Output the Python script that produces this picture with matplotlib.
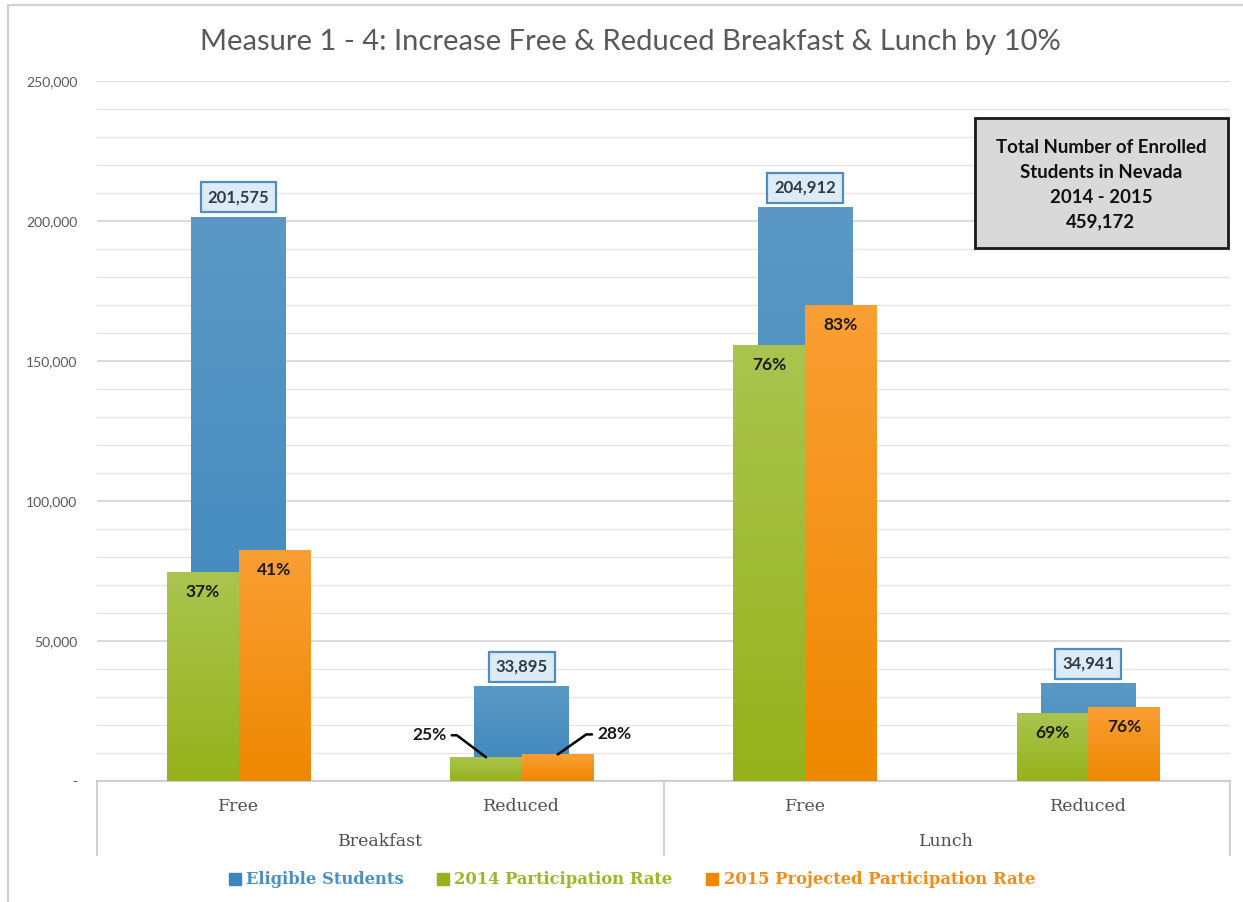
import numpy as np
import matplotlib
matplotlib.use('Agg')
import matplotlib.pyplot as plt
from matplotlib.ticker import FuncFormatter, MultipleLocator
from matplotlib.lines import Line2D
from matplotlib.patches import Rectangle
from matplotlib.colors import LinearSegmentedColormap

# data
meals = ['Breakfast', 'Lunch']
categories = ['Free', 'Reduced', 'Free', 'Reduced']
eligible = [201575, 33895, 204912, 34941]
rate_2014 = [37, 25, 76, 69]
rate_2015 = [41, 28, 83, 76]
series_names = ['Eligible Students', '2014 Participation Rate', '2015 Projected Participation Rate']
box_lines = ['Total Number of Enrolled', 'Students in Nevada', '2014 - 2015', '459,172']

# participation counts follow from the labelled rates
part_2014 = [e * r / 100 for e, r in zip(eligible, rate_2014)]
part_2015 = [e * r / 100 for e, r in zip(eligible, rate_2015)]

BLUE = ('#5b98c5', '#3a86bd')
GREEN = ('#abc44f', '#96b21a')
ORANGE = ('#fa9f35', '#ee8800')
TEXT_GRAY = '#595959'
SANS = 'Lato'
SERIF = 'DejaVu Serif'


def gradient_fill(ax, bars, colors, z):
    cmap = LinearSegmentedColormap.from_list('grad', [colors[1], colors[0]])
    grad = np.linspace(0, 1, 256).reshape(-1, 1)
    for b in bars:
        x0, y0 = b.get_x(), b.get_y()
        im = ax.imshow(grad, extent=[x0, x0 + b.get_width(), y0, y0 + b.get_height()],
                       origin='lower', aspect='auto', cmap=cmap, zorder=z)
        im.set_clip_path(b)


fig = plt.figure(figsize=(12.43, 9.02), dpi=100)
ax = fig.add_axes([97 / 1243, 1 - 781 / 902, (1230 - 97) / 1243, 700 / 902])

x = np.arange(len(categories))
wide, narrow = 0.335, 0.253

b_elig = ax.bar(x, eligible, width=wide, color=BLUE[0], zorder=2)
b_14 = ax.bar(x - narrow / 2, part_2014, width=narrow, color=GREEN[0], zorder=3)
b_15 = ax.bar(x + narrow / 2, part_2015, width=narrow, color=ORANGE[0], zorder=3)
gradient_fill(ax, b_elig, BLUE, 2.1)
gradient_fill(ax, b_14, GREEN, 3.1)
gradient_fill(ax, b_15, ORANGE, 3.1)

ax.set_xlim(-0.5, len(categories) - 0.5)
ax.set_ylim(0, 250000)

# grid
ax.yaxis.set_major_locator(MultipleLocator(50000))
ax.yaxis.set_minor_locator(MultipleLocator(10000))
ax.grid(axis='y', which='major', color='#d4d4d4', lw=1.2, zorder=0)
ax.grid(axis='y', which='minor', color='#e6e6e6', lw=1.0, zorder=0)
ax.set_axisbelow(True)
ax.yaxis.set_major_formatter(FuncFormatter(lambda v, p: '-' if v == 0 else f'{v:,.0f}'))
ax.tick_params(axis='y', which='both', length=0, pad=14, labelsize=10, labelcolor=TEXT_GRAY)
for lbl in ax.get_yticklabels():
    lbl.set_fontfamily(SANS)
ax.set_xticks([])
for s in ['left', 'right', 'top']:
    ax.spines[s].set_visible(False)
ax.spines['bottom'].set_color('#c8c8c8')
ax.spines['bottom'].set_linewidth(1.2)

# multi-level category axis
for xi, c in zip(x, categories):
    ax.text(xi, -0.036, c, transform=ax.get_xaxis_transform(), ha='center', va='center',
            fontsize=12.5, family=SERIF, color='#505050')
for i, m in enumerate(meals):
    ax.text(2 * i + 0.5, -0.087, m, transform=ax.get_xaxis_transform(), ha='center', va='center',
            fontsize=12.5, family=SERIF, color='#505050')
for xs in [-0.5, 1.5, 3.5]:
    ax.plot([xs, xs], [0, -0.106], transform=ax.get_xaxis_transform(), color='#c8c8c8',
            lw=1.2, clip_on=False)

# eligible value boxes
for b, v in zip(b_elig, eligible):
    ax.annotate(f'{v:,}', (b.get_x() + b.get_width() / 2, b.get_height()),
                xytext=(0, 14), textcoords='offset points', ha='center', va='center',
                fontsize=12, fontweight='bold', family=SANS, color='#2f3b45', zorder=5,
                bbox=dict(boxstyle='square,pad=0.42', fc='#dcebf6', ec='#4f8dbf', lw=1.6))

# percentage labels
for bars, rates in [(b_14, rate_2014), (b_15, rate_2015)]:
    for i, (b, r) in enumerate(zip(bars, rates)):
        cx = b.get_x() + b.get_width() / 2
        if i == 1:
            continue
        ax.annotate(f'{r}%', (cx, b.get_height()), xytext=(0, -20), textcoords='offset pixels',
                    ha='center', va='center', fontsize=12.5, fontweight='bold', family=SANS,
                    color='#1a1a1a', zorder=5)

# small breakfast reduced bars get leader lines
b = b_14[1]
ax.annotate(f'{rate_2014[1]}%', (b.get_x() + b.get_width() / 2, b.get_height()),
            xytext=(-57, 22), textcoords='offset pixels', ha='center', va='center',
            fontsize=12.5, fontweight='bold', family=SANS, color='#1a1a1a', zorder=5,
            arrowprops=dict(arrowstyle='-', color='black', lw=1.8, shrinkB=0,
                            connectionstyle='angle,angleA=0,angleB=-37,rad=0'))
b = b_15[1]
ax.annotate(f'{rate_2015[1]}%', (b.get_x() + b.get_width() / 2, b.get_height()),
            xytext=(57, 20), textcoords='offset pixels', ha='center', va='center',
            fontsize=12.5, fontweight='bold', family=SANS, color='#1a1a1a', zorder=5,
            arrowprops=dict(arrowstyle='-', color='black', lw=1.8, shrinkB=0,
                            connectionstyle='angle,angleA=0,angleB=35,rad=0'))

# enrolled students box
fig.add_artist(Rectangle((975 / 1243, 1 - 248 / 902), 253 / 1243, 130 / 902,
                         transform=fig.transFigure, fc='#d9d9d9', ec='#1a1a1a', lw=2, zorder=4))
fig.text(1101 / 1243, 1 - 185 / 902, '\n'.join(box_lines), ha='center', va='center',
         fontsize=13.4, fontweight='bold', family=SANS, color='#111111', linespacing=1.55,
         zorder=5)

# title
fig.text(0.507, 1 - 42 / 902, 'Measure 1 - 4: Increase Free & Reduced Breakfast & Lunch by 10%',
         ha='center', va='center', fontsize=21, family=SANS, color=TEXT_GRAY)

# legend
handles = [Line2D([], [], marker='s', ls='none', color=c[1], markersize=8) for c in (BLUE, GREEN, ORANGE)]
leg = fig.legend(handles, series_names, loc='center', bbox_to_anchor=(0.508, 1 - 880 / 902),
                 ncol=3, frameon=False, handletextpad=0.3, columnspacing=2.0, handlelength=0.8,
                 prop=dict(family=SERIF, weight='bold', size=11.8))
for t, c in zip(leg.get_texts(), ['#4a90c2', '#9ab828', '#f28c1a']):
    t.set_color(c)

# chart border
fig.add_artist(Rectangle((8 / 1243, -0.01), 1.0, 1 - 5 / 902 + 0.01, transform=fig.transFigure,
                         fill=False, ec='#cfcfcf', lw=1.5))

fig.savefig('out.png', dpi=100)
